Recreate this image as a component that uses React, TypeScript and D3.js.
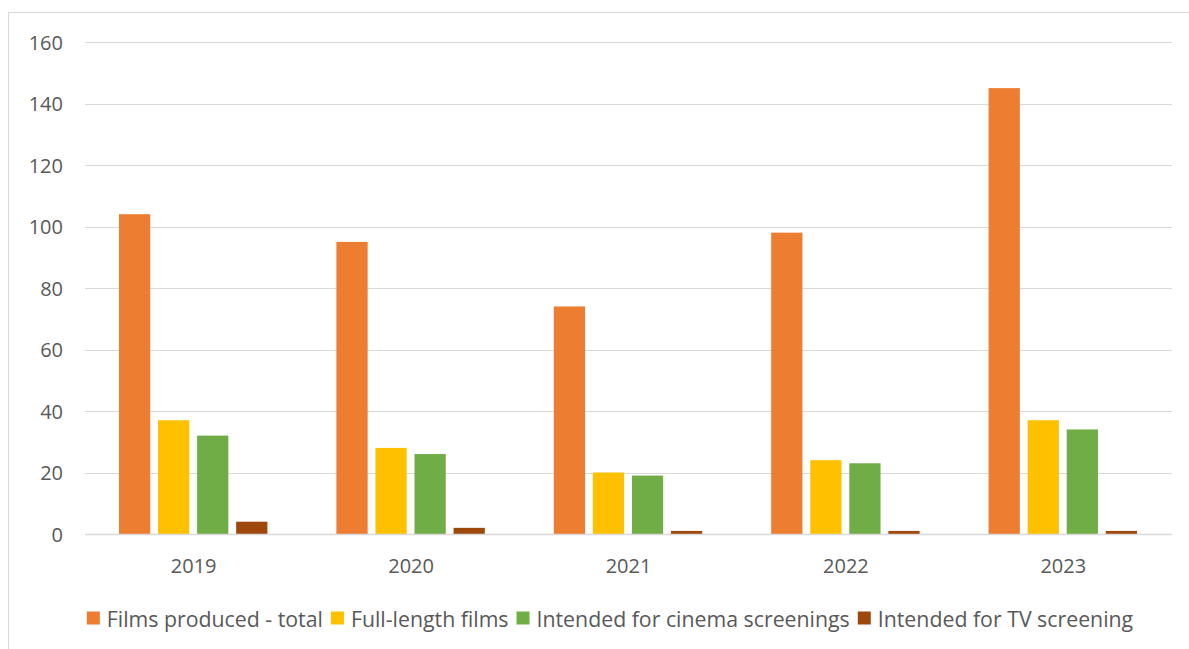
import React, { useEffect, useRef } from "react";
import * as d3 from "d3";

const categories = ["2019", "2020", "2021", "2022", "2023"];
const seriesNames = [
  "Films produced - total",
  "Full-length films",
  "Intended for cinema screenings",
  "Intended for TV screening",
];
const totalFilms = [104, 95, 74, 98, 145];
const fullLength = [37, 28, 20, 24, 37];
const cinema = [32, 26, 19, 23, 34];
const tv = [4, 2, 1, 1, 1];
const yTicks = [0, 20, 40, 60, 80, 100, 120, 140, 160];
const colors = ["#ED7D31", "#FFC000", "#70AD47", "#9E480E"];

const W = 1189;
const H = 649;
const FONT = "'Open Sans', 'Noto Sans', sans-serif";
const TEXT = "#595959";

export default function App() {
  const ref = useRef<SVGSVGElement>(null);
  useEffect(() => {
    const svg = d3.select(ref.current);
    svg.selectAll("*").remove();
    const series = [totalFilms, fullLength, cinema, tv];
    const left = 85, right = 1172, top = 42, bottom = 534;

    svg.append("rect").attr("x", 8.5).attr("y", 12.5).attr("width", 1300).attr("height", 800)
      .attr("fill", "#fff").attr("stroke", "#D9D9D9").attr("stroke-width", 1);

    const x0 = d3.scaleBand().domain(categories).range([left, right]).paddingInner(0).paddingOuter(0);
    const x1 = d3.scaleBand().domain(seriesNames).range([34, x0.bandwidth() - 35]).paddingInner(0.2);
    const y = d3.scaleLinear().domain([0, 160]).range([bottom, top]);

    const g = svg.append("g");
    g.selectAll("line.grid").data(yTicks.filter(t => t > 0)).enter().append("line")
      .attr("x1", left).attr("x2", right)
      .attr("y1", d => Math.round(y(d)) + 0.5).attr("y2", d => Math.round(y(d)) + 0.5)
      .attr("stroke", "#D9D9D9").attr("stroke-width", 1);

    g.selectAll("text.ytick").data(yTicks).enter().append("text")
      .attr("x", 63).attr("y", d => y(d)).attr("text-anchor", "end").attr("dominant-baseline", "central")
      .attr("font-family", FONT).attr("font-size", 20).attr("fill", TEXT).text(d => String(d));

    categories.forEach((c, ci) => {
      series.forEach((s, si) => {
        g.append("rect")
          .attr("x", (x0(c) as number) + (x1(seriesNames[si]) as number))
          .attr("y", y(s[ci]))
          .attr("width", x1.bandwidth())
          .attr("height", y(0) - y(s[ci]))
          .attr("fill", colors[si]);
      });
      g.append("text").attr("x", (x0(c) as number) + x0.bandwidth() / 2).attr("y", 565)
        .attr("text-anchor", "middle").attr("dominant-baseline", "central")
        .attr("font-family", FONT).attr("font-size", 20).attr("fill", TEXT).text(c);
    });

    g.append("line").attr("x1", left).attr("x2", right).attr("y1", y(0) + 0.5).attr("y2", y(0) + 0.5)
      .attr("stroke", "#D9D9D9").attr("stroke-width", 1.5);

    // legend
    const lg = svg.append("g");
    const items = seriesNames.map((n, i) => {
      const it = lg.append("g");
      it.append("rect").attr("width", 13).attr("height", 13).attr("y", -6.5).attr("fill", colors[i]);
      const t = it.append("text").attr("x", 20).attr("dominant-baseline", "central")
        .attr("font-family", FONT).attr("font-size", 21.3).attr("fill", TEXT).text(n);
      const w = 20 + (t.node() as SVGTextElement).getComputedTextLength();
      return { it, w };
    });
    const gap = 8;
    const total = d3.sum(items, d => d.w) + gap * (items.length - 1);
    let cx = 610 - total / 2;
    items.forEach(({ it, w }) => {
      it.attr("transform", `translate(${cx},618)`);
      cx += w + gap;
    });
  }, []);
  return (
    <svg ref={ref} width={W} height={H} style={{ position: "absolute", left: 0, top: 0, background: "#fff" }} />
  );
}
